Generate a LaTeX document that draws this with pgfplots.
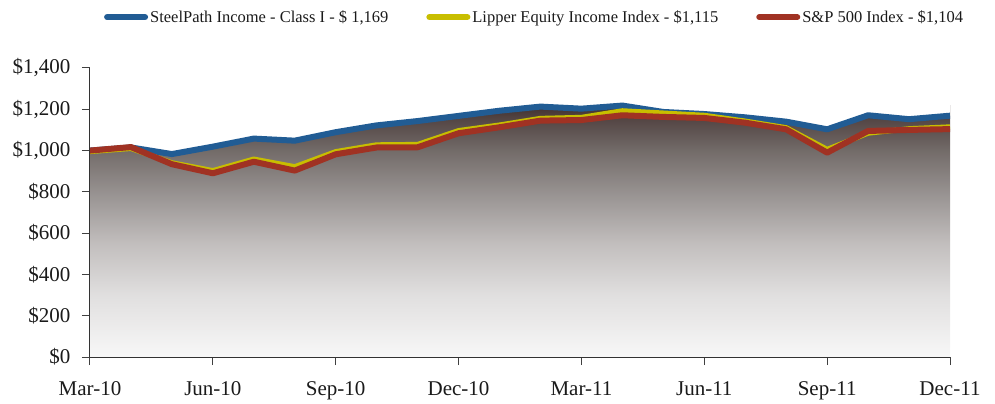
\documentclass[border=0pt]{standalone}
\usepackage{pgfplots}
\pgfplotsset{compat=1.18}
\usepackage{fontspec}
\setmainfont{Liberation Serif}
\definecolor{spblue}{RGB}{33,92,148}
\definecolor{lpyellow}{RGB}{200,190,0}
\definecolor{spred}{RGB}{160,50,35}
\definecolor{txt}{RGB}{26,26,26}
\pgfdeclareverticalshading{areash}{100bp}{
  rgb(0bp)=(0.97,0.97,0.97);
  rgb(25bp)=(0.97,0.97,0.97);
  rgb(37.3bp)=(0.88,0.875,0.875);
  rgb(47.6bp)=(0.76,0.745,0.742);
  rgb(57.8bp)=(0.59,0.57,0.565);
  rgb(66.1bp)=(0.45,0.42,0.41);
  rgb(72.2bp)=(0.33,0.275,0.27);
  rgb(75bp)=(0.26,0.19,0.18);
  rgb(100bp)=(0.26,0.19,0.18)}
\pgfplotstableread{
x blue yellow red
0 1000 995 1000
1 1015 1010 1017
2 983 941 934
3 1019 903 890
4 1058 959 946
5 1048 922 903
6 1089 995 982
7 1122 1028 1015
8 1143 1030 1016
9 1168 1097 1084
10 1193 1124 1113
11 1213 1156 1145
12 1203 1161 1148
13 1218 1193 1171
14 1187 1182 1163
15 1177 1171 1158
16 1161 1143 1135
17 1140 1111 1103
18 1103 1006 990
19 1171 1084 1095
20 1152 1106 1100
21 1169 1115 1104
}\data
\begin{document}
\begin{tikzpicture}
\begin{axis}[
  name=ax,
  scale only axis,
  width=860bp, height=289bp,
  xmin=0, xmax=21, ymin=0, ymax=1400,
  axis x line=bottom, axis y line=left,
  axis line style={-, line width=1bp, color=black!80},
  axis on top,
  xtick={0,3,6,9,12,15,18,21},
  xticklabels={Mar-10,Jun-10,Sep-10,Dec-10,Mar-11,Jun-11,Sep-11,Dec-11},
  ytick={0,200,...,1400},
  yticklabels={\$0,\$200,\$400,\$600,\$800,\$1{,}000,\$1{,}200,\$1{,}400},
  tick align=outside,
  major tick length=8bp,
  tick style={line width=1bp, color=black!75},
  ticklabel style={font=\fontsize{21bp}{25bp}\selectfont, text=txt},
  xticklabel style={yshift=-13bp},
  yticklabel style={xshift=-8bp},
  legend columns=3,
  legend style={at={(0.517,1.176)}, anchor=center, draw=none, fill=none,
    font=\fontsize{16.5bp}{19bp}\selectfont, text=txt,
    /tikz/every even column/.append style={column sep=36bp},
    inner sep=0pt},
  legend image code/.code={\draw[line width=6bp, line cap=round] (0bp,0bp) -- (38bp,0bp);},
  clip=false,
]
\fill[shading=areash] (axis cs:0,0) rectangle (axis cs:21,1218);
\addplot[draw=none, fill=white, forget plot]
  table[x=x, y=blue] {\data} -- (axis cs:21,1400) -- (axis cs:0,1400) -- cycle;
\addplot[spblue, line width=6bp, line join=round] table[x=x, y=blue] {\data};
\addlegendentry{SteelPath Income - Class I - \$ 1,169}
\addplot[lpyellow, line width=5bp, line join=round] table[x=x, y=yellow] {\data};
\addlegendentry{Lipper Equity Income Index - \$1,115}
\addplot[spred, line width=6bp, line join=round] table[x=x, y=red] {\data};
\addlegendentry{S\&P 500 Index - \$1,104}
\end{axis}
\pgfresetboundingbox
\path[use as bounding box] ([shift={(-90bp,-47bp)}]ax.south west) rectangle ([shift={(45bp,68bp)}]ax.north east);
\end{tikzpicture}
\end{document}
